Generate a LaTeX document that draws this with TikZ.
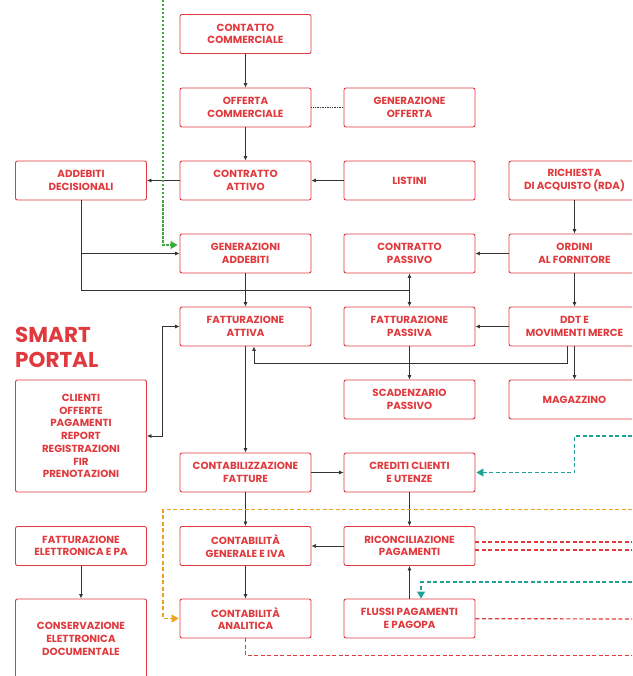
\documentclass[tikz,border=0pt]{standalone}
\usepackage{fontspec}
\setmainfont{Poppins}
\usetikzlibrary{arrows.meta}
\definecolor{rosso}{HTML}{E03A3E}
\definecolor{verde}{HTML}{3DAA3A}
\definecolor{ottanio}{HTML}{1FA294}
\definecolor{arancio}{HTML}{EBA21F}
\definecolor{grigio}{HTML}{333333}
\begin{document}
\begin{tikzpicture}[x = 1pt, y = -1pt,
        box/.style = {draw = rosso, line width = 0.9pt, rounded corners = 2pt, fill = white,
            minimum width = 131pt, minimum height = 39pt, inner sep = 0pt, align = center,
            text = rosso, font = \fontsize{10.3}{12.7}\selectfont\bfseries},
        freccia/.style = {-{Latex[length = 4.5pt, width = 4pt]}, grigio, line width = 0.7pt},
        tratteggio/.style = {dash pattern = on 4pt off 2.5pt, line width = 1.2pt},
        punta/.style = {-{Triangle[length = 7pt, width = 8pt]}}]
    \useasboundingbox (0,0) rectangle (632,676);
    \clip (0,0) rectangle (632,676);

    % ciclo attivo
    \node[box] (contatto) at (245.5,34) {CONTATTO\\COMMERCIALE};
    \node[box] (offerta) at (245.5,107.5) {OFFERTA\\COMMERCIALE};
    \node[box] (contrattoA) at (245.5,180.5) {CONTRATTO\\ATTIVO};
    \node[box] (addebitiD) at (81,180.5) {ADDEBITI\\DECISIONALI};
    \node[box] (generazioni) at (245.5,253.5) {GENERAZIONI\\ADDEBITI};
    \node[box] (fattA) at (245.5,326.5) {FATTURAZIONE\\ATTIVA};
    \node[box] (contabilizzazione) at (245.5,472.5) {CONTABILIZZAZIONE\\FATTURE};
    \node[box] (contGen) at (245.5,546) {CONTABILITÀ\\GENERALE E IVA};
    \node[box] (contAn) at (245.5,618.5) {CONTABILITÀ\\ANALITICA};

    % ciclo passivo
    \node[box] (genOfferta) at (409.5,107.5) {GENERAZIONE\\OFFERTA};
    \node[box] (listini) at (409.5,180.5) {LISTINI};
    \node[box] (contrattoP) at (409.5,253.5) {CONTRATTO\\PASSIVO};
    \node[box] (fattP) at (409.5,326.5) {FATTURAZIONE\\PASSIVA};
    \node[box] (scadenzario) at (409.5,399.5) {SCADENZARIO\\PASSIVO};
    \node[box] (crediti) at (409.5,472.5) {CREDITI CLIENTI\\E UTENZE};
    \node[box] (riconc) at (409.5,546) {RICONCILIAZIONE\\PAGAMENTI};
    \node[box] (flussi) at (409.5,618.5) {FLUSSI PAGAMENTI\\E PAGOPA};
    \node[box] (rda) at (574.5,180.5) {RICHIESTA\\DI ACQUISTO (RDA)};
    \node[box] (ordini) at (574.5,253.5) {ORDINI\\AL FORNITORE};
    \node[box] (ddt) at (574.5,326.5) {DDT E\\MOVIMENTI MERCE};
    \node[box] (magazzino) at (574.5,399.5) {MAGAZZINO};

    % smart portal
    \node[anchor = north west, align = left, inner sep = 0pt, text = rosso,
        font = \fontsize{21.5}{25}\selectfont\bfseries] (smart) at (15,327) {SMART\\PORTAL};
    \node[box, minimum height = 112pt] (portal) at (81,436)
        {CLIENTI\\OFFERTE\\PAGAMENTI\\REPORT\\REGISTRAZIONI\\FIR\\PRENOTAZIONI};
    \node[box] (fattE) at (81,546) {FATTURAZIONE\\ELETTRONICA E PA};
    \node[box, minimum height = 80pt] (conservazione) at (81,639)
        {CONSERVAZIONE\\ELETTRONICA\\DOCUMENTALE};

    \coordinate (snodo) at (409.5,290);
    \coordinate (verdeIn) at (163,0);
    \coordinate (ottanioIn) at (632,436);
    \coordinate (ottanioIn2) at (632,582);
    \coordinate (arancioIn) at (632,509.5);
    \coordinate (rossoOut) at (632,542);
    \coordinate (rossoOut2) at (632,550);
    \coordinate (rossoOut3) at (632,619);
    \coordinate (rossoOut4) at (632,655.5);

    \draw[freccia] (contatto) -- (offerta);
    \draw[freccia] (offerta) -- (contrattoA);
    \draw[grigio, densely dotted, line width = 0.7pt] (offerta) -- (genOfferta);
    \draw[freccia] (listini) -- (contrattoA);
    \draw[freccia] (contrattoA) -- (addebitiD);
    \draw[freccia] (addebitiD) |- (generazioni);
    \draw[freccia] (addebitiD) |- (snodo) -- (contrattoP);
    \draw[freccia] (snodo) -- (fattP);
    \draw[freccia] (generazioni) -- (fattA);
    \draw[freccia] (rda) -- (ordini);
    \draw[freccia] (ordini) -- (contrattoP);
    \draw[freccia] (ordini) -- (ddt);
    \draw[freccia] (ddt) -- (fattP);
    \draw[freccia] ([xshift = -7.5pt]ddt.south) -- ++(0,17) -| ([xshift = 8.5pt]fattA.south);
    \draw[freccia] (ddt) -- (magazzino);
    \draw[freccia] (fattP) -- (scadenzario);
    \draw[freccia, {Latex[length = 4.5pt, width = 4pt]}-{Latex[length = 4.5pt, width = 4pt]}]
        (fattA.west) -- ++(-17,0) |- (portal.east);
    \draw[freccia] (fattA) -- (contabilizzazione);
    \draw[freccia] (contabilizzazione) -- (crediti);
    \draw[freccia] (crediti) -- (riconc);
    \draw[freccia] (riconc) -- (contGen);
    \draw[freccia] (contabilizzazione) -- (contGen);
    \draw[freccia] (contGen) -- (contAn);
    \draw[freccia] (flussi) -- (riconc);
    \draw[freccia] (fattE) -- (conservazione);

    % flussi esterni
    \draw[verde, dash pattern = on 2.5pt off 1.5pt, line width = 1.2pt, punta]
        (verdeIn) |- ([yshift = 8.5pt, xshift = -2pt]generazioni.west);
    \draw[ottanio, tratteggio, punta] (ottanioIn) -- ++(-57.5,0) |- ([xshift = 1pt]crediti.east);
    \draw[ottanio, tratteggio, punta] (ottanioIn2) -| ([xshift = 11.5pt]flussi.north);
    \draw[arancio, tratteggio, punta] (arancioIn) -- ++(-469,0) |- ([xshift = -1pt]contAn.west);
    \draw[rosso, tratteggio] ([yshift = 4pt]riconc.east) -- (rossoOut);
    \draw[rosso, tratteggio] ([yshift = -4pt]riconc.east) -- (rossoOut2);
    \draw[rosso, tratteggio] (flussi) -- (rossoOut3);
    \draw[rosso, tratteggio] (contAn) |- (rossoOut4);
\end{tikzpicture}
\end{document}
